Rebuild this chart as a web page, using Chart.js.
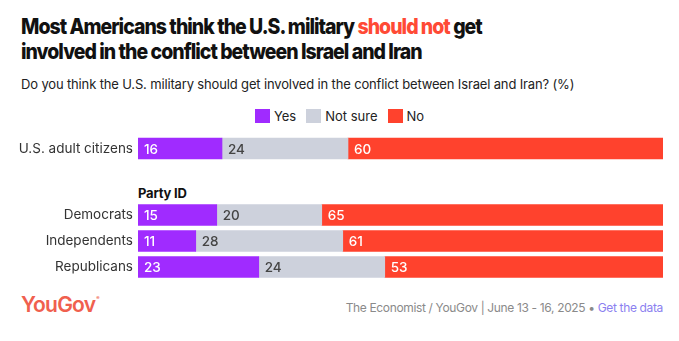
<!DOCTYPE html>
<html>
<head>
<meta charset="utf-8">
<script src="https://cdn.jsdelivr.net/npm/chart.js@4.4.1/dist/chart.umd.min.js"></script>
<style>
  body { margin: 0; background: #fff; font-family: Inter, "Noto Sans", sans-serif; }
  #wrap { position: relative; width: 679px; height: 341px; overflow: hidden; }
  .title { position: absolute; left: 21px; top: 14px; font-size: 22px; font-weight: 800; line-height: 25px; color: #111; letter-spacing: -1.1px; transform: scaleX(0.886); transform-origin: 0 0; white-space: nowrap; }
  .title .hl { color: #ff4a35; }
  .sub { position: absolute; left: 21px; top: 76px; font-size: 13px; color: #222; letter-spacing: -0.15px; }
  .legend { position: absolute; top: 108px; left: 0; width: 679px; display: flex; justify-content: center; font-size: 13px; color: #222; }
  .legend span { display: inline-flex; align-items: center; margin: 0 5px; }
  .legend i { display: inline-block; width: 15px; height: 14px; margin-right: 4px; }
  .group { position: absolute; left: 138px; top: 185px; font-size: 13px; font-weight: 700; color: #111; letter-spacing: -0.2px; }
  .box { position: absolute; left: 0; width: 679px; }
  #b1 { top: 135px; height: 27px; }
  #b2 { top: 202px; height: 78px; }
  .logo { position: absolute; left: 21px; top: 292px; font-size: 21px; font-weight: 600; color: #f0604e; letter-spacing: -0.8px; }
  .logo sup { font-size: 5px; vertical-align: 12px; margin-left: 1px; }
  .src { position: absolute; right: 16px; top: 300px; font-size: 12px; color: #8a8a8a; letter-spacing: -0.35px; }
  .src a { color: #8c7ff0; text-decoration: none; }
</style>
</head>
<body>
<div id="wrap">
  <div class="title">Most Americans think the U.S. military <span class="hl">should not</span> get<br>involved in the conflict between Israel and Iran</div>
  <div class="sub">Do you think the U.S. military should get involved in the conflict between Israel and Iran? (%)</div>
  <div class="legend" id="legend"></div>
  <div class="group">Party ID</div>
  <div class="box" id="b1"><canvas id="c1"></canvas></div>
  <div class="box" id="b2"><canvas id="c2"></canvas></div>
  <div class="logo">YouGov<sup>&reg;</sup></div>
  <div class="src">The Economist / YouGov | June 13 - 16, 2025 &bull; <a>Get the data</a></div>
</div>
<script>
const seriesNames = ['Yes', 'Not sure', 'No'];
const seriesColors = ['#a02bff', '#cdd1dc', '#ff422d'];
const labelColors = ['#ffffff', '#444444', '#ffffff'];

const totalLabels = ['U.S. adult citizens'];
const totalYes = [16];
const totalNotSure = [24];
const totalNo = [60];

const partyLabels = ['Democrats', 'Independents', 'Republicans'];
const partyYes = [15, 11, 23];
const partyNotSure = [20, 28, 24];
const partyNo = [65, 61, 53];

// legend
const legendEl = document.getElementById('legend');
seriesNames.forEach((name, i) => {
    const item = document.createElement('span');
    item.innerHTML = `<i style="background:${seriesColors[i]}"></i>${name}`;
    legendEl.appendChild(item);
});

// writes the value at the start of each segment
const valueLabels = {
    id: 'valueLabels',
    afterDatasetsDraw(chart) {
        const ctx = chart.ctx;
        ctx.save();
        ctx.font = '500 13.5px Inter, "Noto Sans", sans-serif';
        ctx.textBaseline = 'middle';
        ctx.textAlign = 'left';
        chart.data.datasets.forEach((ds, di) => {
            chart.getDatasetMeta(di).data.forEach((bar, i) => {
                ctx.fillStyle = labelColors[di];
                ctx.fillText(ds.data[i], Math.min(bar.x, bar.base) + 6, bar.y + 1);
            });
        });
        ctx.restore();
    }
};

function makeChart(id, labels, yes, notSure, no) {
    const ctx = document.getElementById(id).getContext('2d');
    return new Chart(ctx, {
        type: 'bar',
        data: {
            labels: labels,
            datasets: [yes, notSure, no].map((vals, i) => ({
                label: seriesNames[i],
                data: vals,
                backgroundColor: seriesColors[i],
                barThickness: 21,
                borderWidth: 0
            }))
        },
        options: {
            indexAxis: 'y',
            responsive: true,
            maintainAspectRatio: false,
            animation: false,
            layout: { padding: { left: 0, right: 16, top: 0, bottom: 0 } },
            plugins: { legend: { display: false }, tooltip: { enabled: false } },
            scales: {
                x: { stacked: true, min: 0, max: 100, display: false },
                y: {
                    stacked: true,
                    grid: { display: false, drawTicks: false },
                    border: { display: false },
                    ticks: {
                        color: '#333',
                        padding: 5,
                        font: { family: 'Inter, "Noto Sans", sans-serif', size: 13.5 }
                    },
                    afterFit(scale) {
                        // fixed label column, and no extra room above/below the rows
                        scale.width = 138;
                        scale.paddingTop = 0;
                        scale.paddingBottom = 0;
                    }
                }
            }
        },
        plugins: [valueLabels]
    });
}

makeChart('c1', totalLabels, totalYes, totalNotSure, totalNo);
makeChart('c2', partyLabels, partyYes, partyNotSure, partyNo);
</script>
</body>
</html>
